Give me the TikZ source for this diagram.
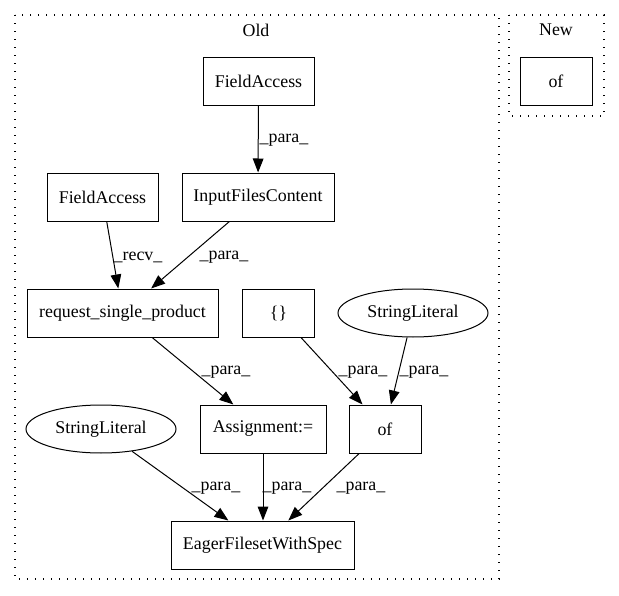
\documentclass[tikz,border=0pt]{standalone}
\usepackage{fontspec}
\setmainfont{Liberation Serif}
\usetikzlibrary{arrows.meta,shapes.geometric}
\begin{document}
\begin{tikzpicture}[x=0.75pt,y=-0.75pt,
  every node/.style={font=\fontsize{13.4}{16}\selectfont, inner sep=0pt},
  box/.style={draw, line width=0.75pt, rectangle, minimum height=36pt},
  oval/.style={draw, line width=0.75pt, ellipse, minimum height=36pt, minimum width=112.5pt},
  cluster/.style={draw, line width=1pt, dash pattern=on 1pt off 5pt},
  edge/.style={draw, line width=0.75pt, -{Triangle[length=10.5pt,width=8pt]}},
  lbl/.style={}]
\useasboundingbox (0,0) rectangle (619,596);
% clusters
\draw[cluster] (15,15) rectangle (499,579);
\draw[cluster] (509,15) rectangle (604,116);
\node (old) at (256,30) {Old};
\node (new) at (556,30) {New};
% nodes
\node[box, minimum width=83.25pt] (fa1) at (258.5,81) {FieldAccess};
\node[box, minimum width=83.25pt] (fa2) at (102.5,197) {FieldAccess};
\node[box, minimum width=114pt] (ifc) at (258,197) {InputFilesContent};
\node[box, minimum width=143.25pt] (req) at (122.5,313) {request\_single\_product};
\node[box, minimum width=54pt] (br) at (278.5,313) {\{\}};
\node[oval] (sl1) at (413,313) {StringLiteral};
\node[box, minimum width=94.5pt] (asg) at (263,429) {Assignment:=};
\node[box, minimum width=54pt] (of1) at (385,429) {of};
\node[oval] (sl2) at (101,429) {StringLiteral};
\node[box, minimum width=137.25pt] (eag) at (262.5,545) {EagerFilesetWithSpec};
\node[box, minimum width=54pt] (of2) at (556,81) {of};
% edges
\draw[edge] (fa1) -- (ifc);
\draw[edge] (fa2) -- (req);
\draw[edge] (ifc) -- (req);
\draw[edge] (req) -- (asg);
\draw[edge] (br) -- (of1);
\draw[edge] (sl1) -- (of1);
\draw[edge] (sl2) -- (eag);
\draw[edge] (asg.south) -- (asg.south |- eag.north);
\draw[edge] (of1) -- (eag);
% labels
\node[lbl] (l1) at (284,140) {\_para\_};
\node[lbl] (l2) at (138,257) {\_recv\_};
\node[lbl] (l3) at (224,257) {\_para\_};
\node[lbl] (l4) at (226,372) {\_para\_};
\node[lbl] (l5) at (363,372) {\_para\_};
\node[lbl] (l6) at (424,372) {\_para\_};
\node[lbl] (l7) at (216,488) {\_para\_};
\node[lbl] (l8) at (287,488) {\_para\_};
\node[lbl] (l9) at (361,488) {\_para\_};
\end{tikzpicture}
\end{document}
